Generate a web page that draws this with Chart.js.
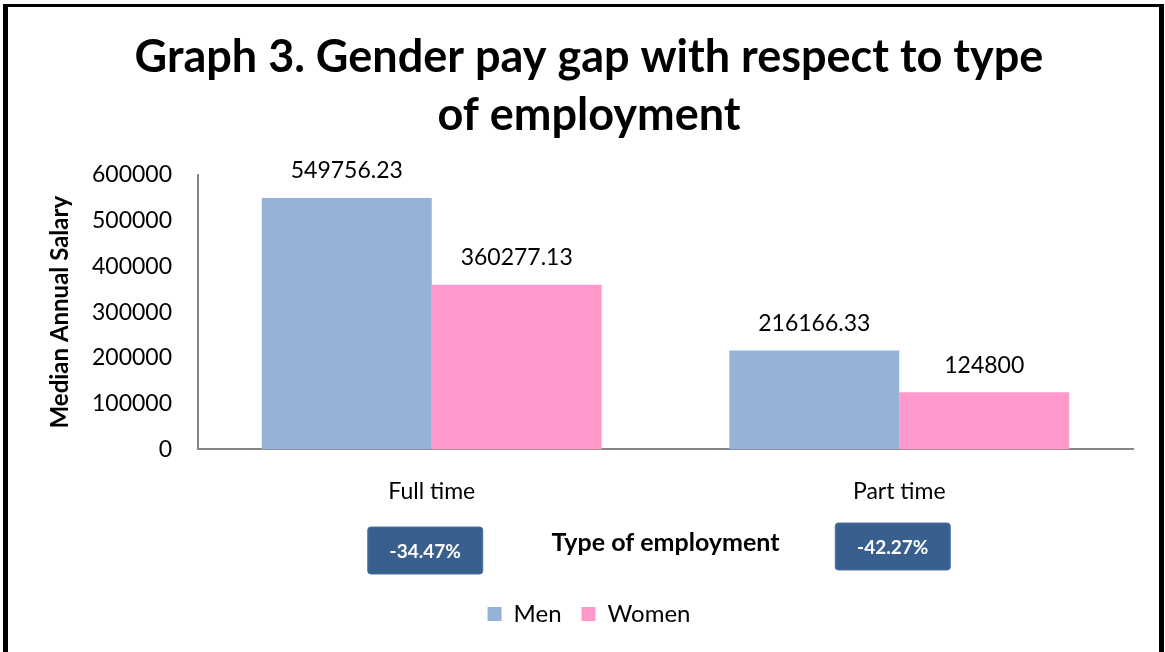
<!DOCTYPE html>
<html>
<head>
<meta charset="utf-8">
<script src="https://cdn.jsdelivr.net/npm/chart.js@4.4.1/dist/chart.umd.min.js"></script>
<style>
  html, body { margin: 0; padding: 0; background: #fff; }
  #wrap { width: 1165px; height: 652px; position: relative; }
</style>
</head>
<body>
<div id="wrap"><canvas id="c" width="1165" height="652"></canvas></div>
<script>
const categories = ['Full time', 'Part time'];
const menValues = [549756.23, 216166.33];
const womenValues = [360277.13, 124800];
const gapLabels = ['-34.47%', '-42.27%'];
const seriesNames = ['Men', 'Women'];
const yTicks = [0, 100000, 200000, 300000, 400000, 500000, 600000];
const titleLines = ['Graph 3. Gender pay gap with respect to type', 'of employment'];

const FONT = 'Lato, "Open Sans", sans-serif';

const frameAndExtras = {
  id: 'frameAndExtras',
  afterDatasetsDraw(chart) {
    const ctx = chart.ctx;
    ctx.save();
    ctx.fillStyle = '#000';
    ctx.font = '23px ' + FONT;
    ctx.textAlign = 'center';
    ctx.textBaseline = 'middle';
    chart.data.datasets.forEach((ds, di) => {
      const meta = chart.getDatasetMeta(di);
      meta.data.forEach((bar, i) => {
        ctx.fillText(String(ds.data[i]), bar.x, bar.y - 27);
      });
    });
    ctx.restore();
  },
  afterDraw(chart) {
    const ctx = chart.ctx;
    const xs = chart.scales.x;
    ctx.save();
    const boxOffsets = [[-6.5, 550.5], [-6.5, 546.5]];
    gapLabels.forEach((lab, i) => {
      const cx = xs.getPixelForValue(i) + boxOffsets[i][0];
      const cy = boxOffsets[i][1];
      const w = 115, h = 47;
      ctx.beginPath();
      ctx.roundRect(cx - w / 2, cy - h / 2, w, h, 3);
      ctx.fillStyle = '#385F8E';
      ctx.fill();
      ctx.lineWidth = 1;
      ctx.strokeStyle = '#4F73A0';
      ctx.stroke();
      ctx.fillStyle = '#fff';
      ctx.font = 'bold 19px ' + FONT;
      ctx.textAlign = 'center';
      ctx.textBaseline = 'middle';
      ctx.fillText(lab, cx, cy + 1);
    });
    ctx.fillStyle = '#000';
    ctx.fillRect(3, 4, 5, 648);
    ctx.fillRect(3, 4, 1161, 3);
    ctx.fillRect(1159, 4, 5, 648);
    ctx.restore();
  }
};

new Chart(document.getElementById('c'), {
  type: 'bar',
  data: {
    labels: categories,
    datasets: [
      { label: seriesNames[0], data: menValues, backgroundColor: '#95B3D7', categoryPercentage: 0.727, barPercentage: 1.0 },
      { label: seriesNames[1], data: womenValues, backgroundColor: '#FF99CC', categoryPercentage: 0.727, barPercentage: 1.0 }
    ]
  },
  options: {
    responsive: false,
    animation: false,
    devicePixelRatio: 1,
    layout: { padding: { top: 0, left: 45, right: 32, bottom: 16 } },
    plugins: {
      title: {
        display: true,
        text: titleLines,
        color: '#000',
        font: { family: FONT, size: 45, weight: 'bold', lineHeight: '58px' },
        padding: { top: 28, bottom: 31 }
      },
      legend: {
        position: 'bottom',
        labels: {
          color: '#000',
          font: { family: FONT, size: 24 },
          boxWidth: 14, boxHeight: 14, padding: 20
        }
      },
      tooltip: { enabled: false }
    },
    scales: {
      x: {
        grid: { display: false },
        border: { display: true, color: '#868686', width: 2 },
        ticks: { color: '#000', font: { family: FONT, size: 23 }, padding: 20 },
        title: {
          display: true, text: 'Type of employment', color: '#000',
          font: { family: FONT, size: 25, weight: 'bold' },
          padding: { top: 3, bottom: 24 }
        }
      },
      y: {
        min: 0, max: 600000,
        afterFit(scale) { scale.width = 153; },
        afterBuildTicks(scale) { scale.ticks = yTicks.map(v => ({ value: v })); },
        grid: { display: false },
        border: { display: true, color: '#868686', width: 2 },
        ticks: { color: '#000', font: { family: FONT, size: 23 }, padding: 18, callback: v => String(v) },
        title: {
          display: true, text: 'Median Annual Salary', color: '#000',
          font: { family: FONT, size: 24, weight: 'bold' },
          padding: { top: 1, bottom: 0 }
        }
      }
    }
  },
  plugins: [frameAndExtras]
});
</script>
</body>
</html>
